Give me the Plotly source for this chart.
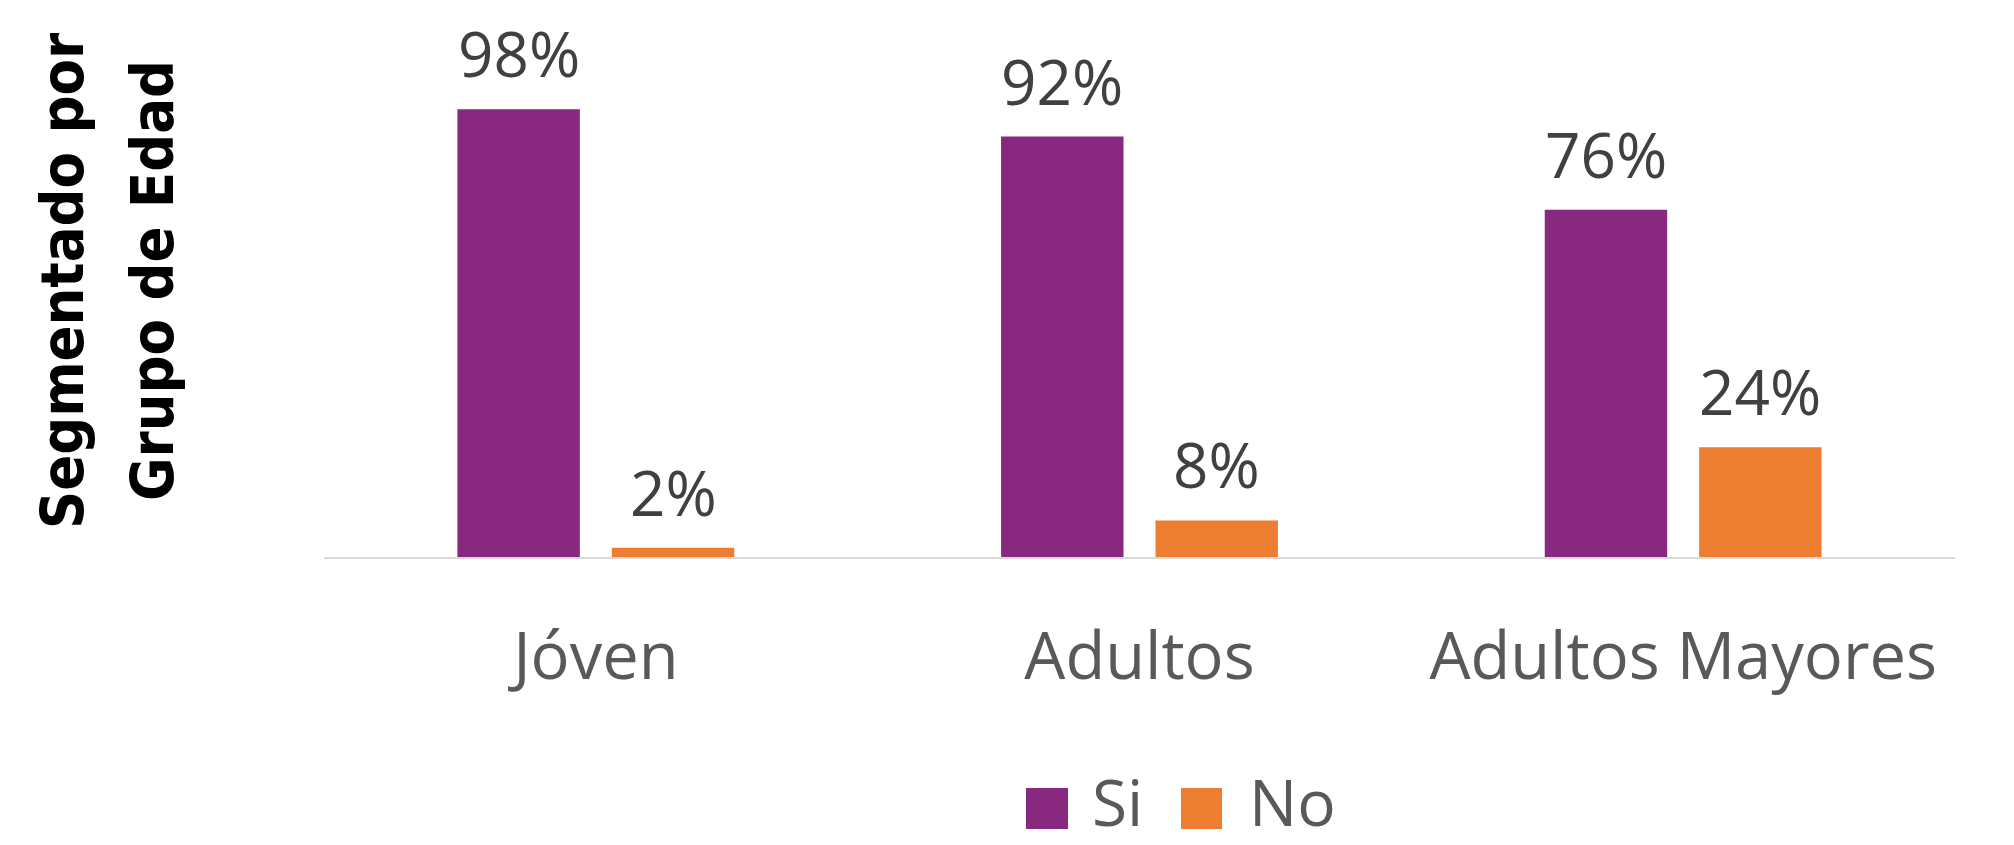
import plotly.graph_objects as go

categories = ["Jóven", "Adultos", "Adultos Mayores"]
series_names = ["Si", "No"]
si_values = [98, 92, 76]
no_values = [2, 8, 24]
colors = ["#88297F", "#ED7D31"]
title_lines = ["Segmentado por", "Grupo de Edad"]

W, H = 2014, 845
ML, MR, MT, MB = 324, 59, 100, 288
PW = W - ML - MR
PH = H - MT - MB

def px(x):
    return (x - ML) / PW

def py(y):
    return (H - MB - y) / PH

BARGAP, GROUPGAP = 0.432, 0.207
cat_w = PW / len(categories)
slot = cat_w * (1 - BARGAP) / 2
offsets = [-slot / 2, slot / 2]

fig = go.Figure()
for name, vals, col, off in zip(series_names, [si_values, no_values], colors, offsets):
    fig.add_trace(go.Bar(
        x=categories, y=vals, name=name,
        marker=dict(color=col, line=dict(width=0)),
        showlegend=False, hoverinfo="x+y+name",
    ))
    for c, v in zip(categories, vals):
        fig.add_annotation(x=c, y=v, xref="x", yref="y", xshift=off, yshift=12,
                           xanchor="center", yanchor="bottom", showarrow=False,
                           text=f"{v}%",
                           font=dict(family="Open Sans", size=62, color="#404040"))

# legend drawn as shapes + text
leg_sq = [(1026, 1068), (1181, 1222)]
leg_tx = [1090, 1247]
for (x0, x1), tx, name, col in zip(leg_sq, leg_tx, series_names, colors):
    fig.add_shape(type="rect", xref="paper", yref="paper",
                  x0=px(x0), x1=px(x1), y0=py(829), y1=py(788),
                  fillcolor=col, line=dict(width=0))
    fig.add_annotation(xref="paper", yref="paper", x=px(tx), y=py(801),
                       xanchor="left", yanchor="middle", showarrow=False,
                       text=name,
                       font=dict(family="Open Sans", size=64, color="#595959"))

for line, cx in zip(title_lines, [62, 152]):
    fig.add_annotation(xref="paper", yref="paper", x=px(cx), y=py(281),
                       xanchor="center", yanchor="middle", showarrow=False,
                       textangle=-90, text=line,
                       font=dict(family="DejaVu Sans Condensed, DejaVu Sans, sans-serif",
                                 size=59, color="#000000", weight="bold"))

fig.update_layout(
    width=W, height=H,
    margin=dict(l=ML, r=MR, t=MT, b=MB, pad=0),
    paper_bgcolor="white", plot_bgcolor="white",
    barmode="group", bargap=BARGAP, bargroupgap=GROUPGAP,
    xaxis=dict(showline=True, linecolor="#D9D9D9", linewidth=2,
               ticks="outside", ticklen=42, tickcolor="rgba(0,0,0,0)",
               tickfont=dict(family="Open Sans", size=65, color="#595959"),
               showgrid=False, zeroline=False),
    yaxis=dict(range=[0, 100], visible=False, showgrid=False, zeroline=False),
)

fig.write_html("out.html", post_script="document.body.style.margin='0';",
               config={"displayModeBar": False})
